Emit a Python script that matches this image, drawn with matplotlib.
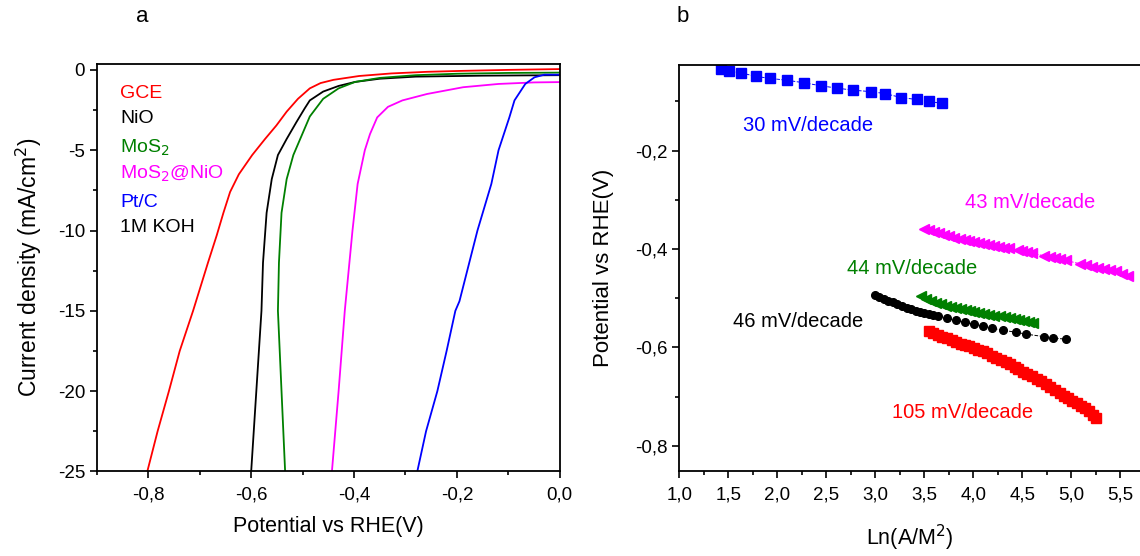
import matplotlib.pyplot as plt
from matplotlib.ticker import MultipleLocator, FuncFormatter

plt.rcParams['font.family'] = ['Liberation Sans', 'DejaVu Sans']

# panel a: LSV curves (potential V, current mA/cm2)
gce_v = [-0.802, -0.798, -0.782, -0.760, -0.739, -0.713, -0.684, -0.667, -0.654, -0.641, -0.624,
         -0.598, -0.573, -0.551, -0.531, -0.509, -0.486, -0.465, -0.440, -0.390, -0.327, -0.258,
         -0.188, -0.100, 0.0]
gce_j = [-25.0, -24.5, -22.5, -20.0, -17.5, -15.0, -12.0, -10.3, -8.9, -7.6, -6.5,
         -5.3, -4.3, -3.46, -2.6, -1.8, -1.15, -0.82, -0.62, -0.38, -0.22, -0.12,
         -0.06, 0.0, 0.05]

nio_v = [-0.600, -0.590, -0.580, -0.577, -0.570, -0.560, -0.548, -0.531, -0.512, -0.496, -0.486,
         -0.460, -0.430, -0.398, -0.350, -0.280, -0.150, 0.0]
nio_j = [-25.0, -20.0, -15.0, -12.0, -8.9, -6.8, -5.3, -4.3, -3.25, -2.4, -1.9,
         -1.35, -1.0, -0.75, -0.55, -0.42, -0.36, -0.33]

mos2_v = [-0.534, -0.541, -0.548, -0.546, -0.541, -0.531, -0.518, -0.502, -0.486, -0.460, -0.430,
          -0.398, -0.350, -0.280, -0.200, -0.100, 0.0]
mos2_j = [-25.0, -20.0, -15.0, -12.0, -8.9, -6.8, -5.3, -4.1, -2.9, -1.8, -1.15,
          -0.75, -0.50, -0.33, -0.24, -0.19, -0.17]

mosnio_v = [-0.443, -0.430, -0.418, -0.403, -0.393, -0.379, -0.369, -0.355, -0.334, -0.306, -0.258,
            -0.188, -0.119, -0.050, 0.0]
mosnio_j = [-25.0, -20.0, -15.0, -10.0, -7.1, -5.0, -4.0, -2.96, -2.3, -1.9, -1.5,
            -1.08, -0.875, -0.78, -0.76]

ptc_v = [-0.277, -0.260, -0.238, -0.220, -0.203, -0.195, -0.160, -0.133, -0.119, -0.098, -0.088,
         -0.067, -0.049, -0.030, -0.015, 0.0]
ptc_j = [-25.0, -22.5, -20.0, -17.5, -15.0, -14.4, -10.0, -7.1, -5.0, -2.96, -1.9,
         -0.875, -0.46, -0.30, -0.30, -0.30]

# panel b: Tafel data (Ln(A/M2), V)
ptc_x = [1.42, 1.51, 1.63, 1.78, 1.92, 2.10, 2.27, 2.44, 2.61, 2.77, 2.95, 3.10, 3.26, 3.42, 3.55, 3.68]
ptc_y = [-0.034, -0.038, -0.042, -0.049, -0.053, -0.057, -0.062, -0.068, -0.073, -0.077, -0.080,
         -0.084, -0.092, -0.096, -0.100, -0.104]

mosnio_x = [3.50, 3.55, 3.60, 3.65, 3.70, 3.75, 3.80, 3.86, 3.91, 3.96, 4.01, 4.06, 4.11, 4.16,
            4.21, 4.26, 4.31, 4.36, 4.45, 4.50, 4.55, 4.60, 4.72, 4.78, 4.83, 4.88, 4.94, 5.09,
            5.15, 5.21, 5.27, 5.33, 5.39, 5.45, 5.52, 5.58]
mosnio_y = [-0.359, -0.362, -0.365, -0.368, -0.371, -0.374, -0.377, -0.379, -0.381, -0.383, -0.385,
            -0.387, -0.389, -0.391, -0.394, -0.396, -0.397, -0.398, -0.402, -0.404, -0.406, -0.408,
            -0.414, -0.417, -0.419, -0.421, -0.423, -0.430, -0.433, -0.436, -0.439, -0.441, -0.443,
            -0.445, -0.450, -0.455]

mos2_x = [3.47, 3.52, 3.57, 3.62, 3.67, 3.72, 3.77, 3.82, 3.87, 3.92, 3.97, 4.01, 4.06, 4.11,
          4.16, 4.21, 4.27, 4.32, 4.37, 4.42, 4.47, 4.52, 4.57, 4.61]
mos2_y = [-0.496, -0.501, -0.505, -0.509, -0.512, -0.515, -0.518, -0.520, -0.522, -0.524, -0.526,
          -0.528, -0.530, -0.532, -0.534, -0.536, -0.537, -0.538, -0.540, -0.542, -0.544, -0.546,
          -0.548, -0.550]

nio_x = [3.00, 3.04, 3.09, 3.13, 3.18, 3.22, 3.27, 3.32, 3.36, 3.41, 3.46, 3.50, 3.55, 3.59,
         3.64, 3.73, 3.82, 3.91, 4.01, 4.10, 4.19, 4.30, 4.43, 4.54, 4.72, 4.81, 4.94]
nio_y = [-0.493, -0.497, -0.501, -0.505, -0.508, -0.512, -0.515, -0.519, -0.522, -0.525, -0.527,
         -0.530, -0.532, -0.535, -0.537, -0.541, -0.545, -0.549, -0.553, -0.557, -0.561, -0.565,
         -0.569, -0.573, -0.578, -0.581, -0.583]

gce_x = [3.55, 3.59, 3.64, 3.68, 3.73, 3.78, 3.82, 3.87, 3.91, 3.96, 4.01, 4.05, 4.10, 4.14,
         4.19, 4.23, 4.28, 4.33, 4.37, 4.42, 4.46, 4.51, 4.55, 4.60, 4.65, 4.69, 4.74, 4.78,
         4.83, 4.88, 4.92, 4.97, 5.01, 5.06, 5.10, 5.14, 5.18, 5.22, 5.25]
gce_y = [-0.567, -0.570, -0.574, -0.578, -0.581, -0.585, -0.588, -0.592, -0.595, -0.598, -0.601,
         -0.605, -0.608, -0.612, -0.617, -0.621, -0.625, -0.629, -0.633, -0.639, -0.644, -0.649,
         -0.654, -0.659, -0.664, -0.669, -0.674, -0.680, -0.686, -0.692, -0.698, -0.703, -0.708,
         -0.713, -0.719, -0.724, -0.730, -0.737, -0.744]

slopes = ['30 mV/decade', '43 mV/decade', '44 mV/decade', '46 mV/decade', '105 mV/decade']

comma = FuncFormatter(lambda v, p: ('%.1f' % v).replace('.', ','))
comma0 = FuncFormatter(lambda v, p: ('%g' % v))

fig = plt.figure(figsize=(11.4, 5.56), dpi=100)

# ---- panel a
ax1 = fig.add_axes([0.085, 0.152, 0.406, 0.733])
ax1.plot(gce_v, gce_j, color='red', lw=1.3)
ax1.plot(nio_v, nio_j, color='black', lw=1.3)
ax1.plot(mos2_v, mos2_j, color='green', lw=1.3)
ax1.plot(mosnio_v, mosnio_j, color='magenta', lw=1.3)
ax1.plot(ptc_v, ptc_j, color='blue', lw=1.3)
ax1.set_xlim(-0.9, 0.0)
ax1.set_ylim(-25, 0.37)
ax1.xaxis.set_major_locator(MultipleLocator(0.2))
ax1.xaxis.set_minor_locator(MultipleLocator(0.1))
ax1.yaxis.set_major_locator(MultipleLocator(5))
ax1.yaxis.set_minor_locator(MultipleLocator(2.5))
ax1.xaxis.set_major_formatter(comma)
ax1.yaxis.set_major_formatter(comma0)
ax1.tick_params(which='both', direction='out', labelsize=13.5, width=1.2)
ax1.tick_params(which='major', length=5)
ax1.tick_params(which='minor', length=3)
ax1.tick_params(axis='x', pad=6)
for s in ax1.spines.values():
    s.set_linewidth(1.3)
ax1.set_xlabel('Potential vs RHE(V)', fontsize=15.5, labelpad=9)
ax1.set_ylabel('Current density (mA/cm$^2$)', fontsize=16.5, labelpad=10)

legend_items = [('GCE', 'red'), ('NiO', 'black'), ('MoS$_2$', 'green'),
                ('MoS$_2$@NiO', 'magenta'), ('Pt/C', 'blue'), ('1M KOH', 'black')]
legend_y = [0.928, 0.867, 0.795, 0.731, 0.659, 0.598]
for (lab, col), yy in zip(legend_items, legend_y):
    ax1.text(0.05, yy, lab, color=col, fontsize=14, transform=ax1.transAxes, va='center')

fig.text(0.125, 0.97, 'a', fontsize=16, va='center', ha='center')

# ---- panel b
ax2 = fig.add_axes([0.596, 0.153, 0.404, 0.730])
ax2.plot(ptc_x, ptc_y, color='blue', marker='s', ms=6.5, lw=0.7, ls='--')
ax2.plot(mosnio_x, mosnio_y, color='magenta', marker='<', ms=7, lw=0.7, ls='--')
ax2.plot(mos2_x, mos2_y, color='green', marker='<', ms=7, lw=0.7, ls='--')
ax2.plot(nio_x, nio_y, color='black', marker='o', ms=5.5, lw=0.7, ls='--')
ax2.plot(gce_x, gce_y, color='red', marker='s', ms=6.5, lw=0.7, ls='--')
ax2.set_xlim(1.0, 5.7)
ax2.set_ylim(-0.851, -0.026)
ax2.xaxis.set_major_locator(MultipleLocator(0.5))
ax2.xaxis.set_minor_locator(MultipleLocator(0.25))
ax2.yaxis.set_major_locator(MultipleLocator(0.2))
ax2.yaxis.set_minor_locator(MultipleLocator(0.1))
ax2.xaxis.set_major_formatter(comma)
ax2.yaxis.set_major_formatter(comma)
ax2.tick_params(which='both', direction='out', labelsize=13.5, width=1.2)
ax2.tick_params(which='major', length=5)
ax2.tick_params(which='minor', length=3)
ax2.tick_params(axis='x', pad=6)
ax2.spines['right'].set_visible(False)
for s in ax2.spines.values():
    s.set_linewidth(1.3)
ax2.set_xlabel('Ln(A/M$^2$)', fontsize=15.5, labelpad=14)
ax2.set_ylabel('Potential vs RHE(V)', fontsize=16, labelpad=15)

ax2.text(2.31, -0.149, slopes[0], color='blue', fontsize=14.5, ha='center', va='center')
ax2.text(4.58, -0.305, slopes[1], color='magenta', fontsize=14.5, ha='center', va='center')
ax2.text(3.37, -0.440, slopes[2], color='green', fontsize=14.5, ha='center', va='center')
ax2.text(2.21, -0.548, slopes[3], color='black', fontsize=14.5, ha='center', va='center')
ax2.text(3.89, -0.733, slopes[4], color='red', fontsize=14.5, ha='center', va='center')

fig.text(0.599, 0.97, 'b', fontsize=16, va='center', ha='center')

fig.savefig('out.png', dpi=100)
